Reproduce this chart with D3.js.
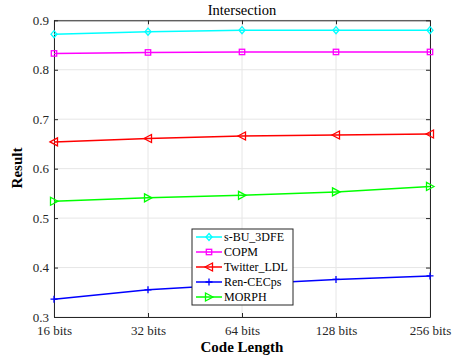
<!DOCTYPE html>
<html><head><meta charset="utf-8">
<script src="https://cdn.jsdelivr.net/npm/d3@7"></script>
<style>body{margin:0;background:#fff}svg{display:block}svg text{font-family:'Liberation Serif','Times New Roman',serif !important}</style>
</head><body><svg id="c" width="456" height="360"></svg>
<script>
const categories = ["16 bits","32 bits","64 bits","128 bits","256 bits"];
const yTicks = [0.3,0.4,0.5,0.6,0.7,0.8,0.9];
const seriesNames = ["s-BU_3DFE","COPM","Twitter_LDL","Ren-CECps","MORPH"];
const sBU3DFE   = [0.872,0.877,0.880,0.880,0.880];
const COPM      = [0.833,0.835,0.836,0.836,0.836];
const TwitterLDL= [0.654,0.661,0.666,0.668,0.670];
const RenCECps  = [0.336,0.355,0.366,0.376,0.383];
const MORPH     = [0.534,0.541,0.546,0.553,0.564];
const colors = ["#00ffff","#ff00ff","#ff0000","#0000ff","#00ff00"];
const markers = ["diamond","square","tleft","plus","tright"];
const data = [sBU3DFE,COPM,TwitterLDL,RenCECps,MORPH];
const serif = "'Liberation Serif','Times New Roman',serif";

const svg = d3.select("#c");
const m = {l:54, r:430, t:20.3, b:317};
const x = d3.scalePoint().domain(categories).range([m.l,m.r]);
const y = d3.scaleLinear().domain([0.3,0.9]).range([m.b,m.t]);

// grid
const g = svg.append("g");
g.selectAll(".gx").data(categories).join("line")
 .attr("x1",d=>x(d)).attr("x2",d=>x(d)).attr("y1",m.t).attr("y2",m.b)
 .attr("stroke","#e6e6e6").attr("stroke-width",1);
g.selectAll(".gy").data(yTicks).join("line")
 .attr("x1",m.l).attr("x2",m.r).attr("y1",d=>y(d)).attr("y2",d=>y(d))
 .attr("stroke","#e6e6e6").attr("stroke-width",1);

// axes
const ax = svg.append("g").attr("transform",`translate(0,${m.b})`)
 .call(d3.axisBottom(x).tickSizeInner(-4).tickSizeOuter(0).tickPadding(9));
const ay = svg.append("g").attr("transform",`translate(${m.l},0)`)
 .call(d3.axisLeft(y).tickValues(yTicks).tickFormat(d3.format(".1f")).tickSizeInner(-4).tickSizeOuter(0).tickPadding(5));
const axT = svg.append("g").attr("transform",`translate(0,${m.t})`)
 .call(d3.axisTop(x).tickSizeInner(-4).tickSizeOuter(0).tickFormat(""));
const ayR = svg.append("g").attr("transform",`translate(${m.r},0)`)
 .call(d3.axisRight(y).tickValues(yTicks).tickSizeInner(-4).tickSizeOuter(0).tickFormat(""));
[ax,ay,axT,ayR].forEach(a=>{
  a.attr("font-family",serif).attr("font-size",13);
  a.select(".domain").attr("stroke","#262626").attr("stroke-width",1);
  a.selectAll(".tick line").attr("stroke","#262626");
  a.selectAll("text").attr("fill","#262626");
});

function marker(sel, type, color){
  if(type==="diamond") sel.append("path").attr("d","M0,-3.5L3,0L0,3.5L-3,0Z").attr("fill","none").attr("stroke",color).attr("stroke-width",1.3);
  else if(type==="square") sel.append("rect").attr("x",-2.7).attr("y",-2.7).attr("width",5.4).attr("height",5.4).attr("fill","none").attr("stroke",color).attr("stroke-width",1.3);
  else if(type==="tleft") sel.append("path").attr("d","M-4,0L3.5,-4L3.5,4Z").attr("fill","none").attr("stroke",color).attr("stroke-width",1.3);
  else if(type==="tright") sel.append("path").attr("d","M4,0L-3.5,-4L-3.5,4Z").attr("fill","none").attr("stroke",color).attr("stroke-width",1.3);
  else if(type==="plus") sel.append("path").attr("d","M-3.5,0L3.5,0M0,-3.5L0,3.5").attr("fill","none").attr("stroke",color).attr("stroke-width",1.3);
}

const line = d3.line().x((d,i)=>x(categories[i])).y(d=>y(d));
data.forEach((s,k)=>{
  svg.append("path").datum(s).attr("d",line).attr("fill","none").attr("stroke",colors[k]).attr("stroke-width",1.5);
  s.forEach((v,i)=>{
    const mg = svg.append("g").attr("transform",`translate(${x(categories[i])},${y(v)})`);
    marker(mg, markers[k], colors[k]);
  });
});

// legend
const lg = svg.append("g").attr("transform","translate(192,229)").attr("font-family",serif);
lg.append("rect").attr("width",101).attr("height",76).attr("fill","#fff").attr("stroke","#262626").attr("stroke-width",1);
seriesNames.forEach((n,k)=>{
  const yy = 8 + k*15;
  lg.append("line").attr("x1",4).attr("x2",30).attr("y1",yy).attr("y2",yy).attr("stroke",colors[k]).attr("stroke-width",1.5);
  const mg = lg.append("g").attr("transform",`translate(17,${yy})`);
  marker(mg, markers[k], colors[k]);
  lg.append("text").attr("x",32).attr("y",yy+4).text(n).attr("font-size",12).attr("fill","#000");
});

// title & labels
const tg = svg.append("g").attr("font-family",serif);
tg.append("text").attr("x",242).attr("y",15).attr("text-anchor","middle").attr("font-size",14.5).text("Intersection");
tg.append("text").attr("x",242).attr("y",352).attr("text-anchor","middle").attr("font-size",15).attr("font-weight","bold").text("Code Length");
tg.append("text").attr("transform","translate(22,168) rotate(-90)").attr("text-anchor","middle").attr("font-size",15).attr("font-weight","bold").text("Result");
</script></body></html>
